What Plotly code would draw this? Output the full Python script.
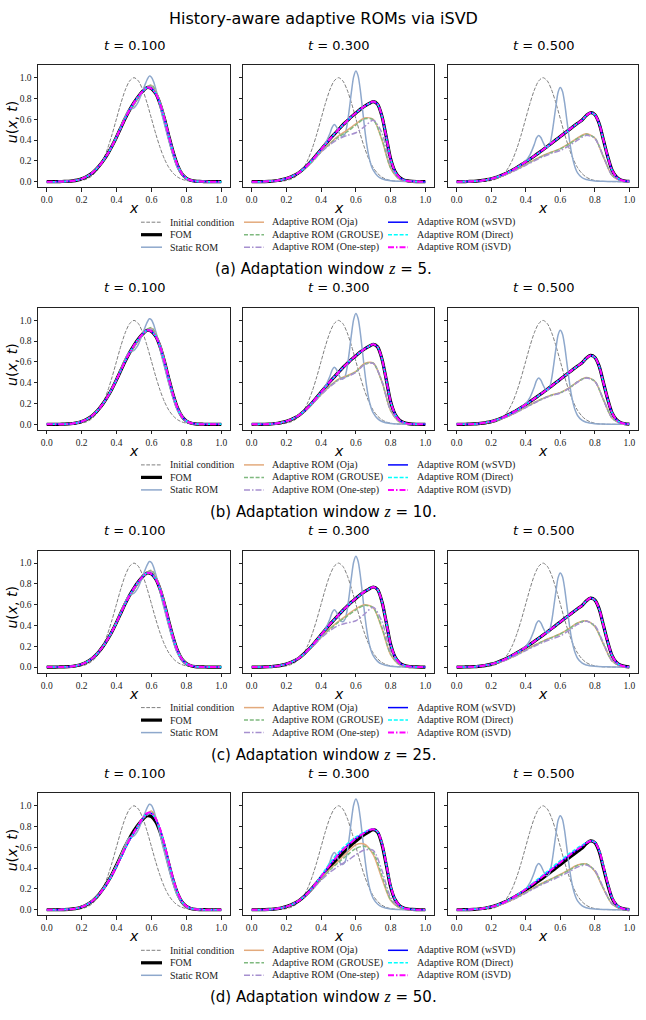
import plotly.graph_objects as go

# ---------------- data ----------------
X = [0.0, 0.025, 0.05, 0.075, 0.1, 0.125, 0.15, 0.175, 0.2, 0.225, 0.25, 0.275, 0.3, 0.325, 0.35, 0.375,
     0.4, 0.425, 0.45, 0.475, 0.5, 0.525, 0.55, 0.575, 0.6, 0.625, 0.65, 0.675, 0.7, 0.725, 0.75, 0.775,
     0.8, 0.825, 0.85, 0.875, 0.9, 0.925, 0.95, 0.975, 1.0]
XC = [0.0, 0.05, 0.1, 0.15, 0.2, 0.25, 0.3, 0.35, 0.4, 0.45, 0.5, 0.55, 0.6, 0.65, 0.7, 0.75, 0.8, 0.85, 0.9, 0.95, 1.0]
XS = [0.0, 0.05, 0.1, 0.15, 0.2, 0.25, 0.3, 0.35, 0.4, 0.425, 0.45, 0.4625, 0.475, 0.4875, 0.5, 0.5125, 0.525,
      0.5375, 0.55, 0.5625, 0.575, 0.5875, 0.6, 0.6125, 0.625, 0.6375, 0.65, 0.6625, 0.675, 0.6875, 0.7, 0.725,
      0.75, 0.8, 0.85, 0.9, 0.95, 1.0]

INIT = [0, 0, 0, 0, 0.0003, 0.0009, 0.002, 0.005, 0.011, 0.023, 0.044, 0.080, 0.135, 0.216, 0.325, 0.458,
        0.607, 0.755, 0.882, 0.969, 1.0, 0.969, 0.882, 0.755, 0.607, 0.458, 0.325, 0.216, 0.135, 0.080, 0.044,
        0.023, 0.011, 0.005, 0.002, 0.0009, 0.0003, 0, 0, 0, 0]

FOM_T1 = [0, 0, 0, 0.001, 0.002, 0.004, 0.008, 0.015, 0.027, 0.045, 0.07, 0.105, 0.15, 0.205, 0.27, 0.345,
          0.43, 0.52, 0.61, 0.69, 0.76, 0.82, 0.87, 0.905, 0.895, 0.845, 0.745, 0.60, 0.435, 0.28, 0.155, 0.075,
          0.033, 0.013, 0.005, 0.002, 0.001, 0, 0, 0, 0]
FOM_T3 = [0, 0, 0, 0.001, 0.003, 0.006, 0.011, 0.019, 0.03, 0.045, 0.065, 0.09, 0.125, 0.165, 0.21, 0.26,
          0.31, 0.36, 0.41, 0.455, 0.5, 0.545, 0.585, 0.625, 0.66, 0.695, 0.725, 0.75, 0.77, 0.745, 0.63, 0.43,
          0.22, 0.10, 0.042, 0.017, 0.007, 0.003, 0.001, 0, 0]
FOM_T5 = [0, 0, 0.001, 0.002, 0.004, 0.007, 0.012, 0.019, 0.028, 0.04, 0.055, 0.072, 0.092, 0.114, 0.138, 0.163,
          0.19, 0.218, 0.247, 0.277, 0.307, 0.338, 0.37, 0.402, 0.434, 0.466, 0.498, 0.53, 0.561, 0.59, 0.635, 0.663,
          0.645, 0.56, 0.40, 0.24, 0.11, 0.045, 0.017, 0.006, 0.002]

STATIC_T1 = [0, 0, 0.002, 0.008, 0.027, 0.07, 0.15, 0.27, 0.43, 0.525, 0.625, 0.67, 0.695, 0.70, 0.71, 0.735, 0.77,
             0.82, 0.875, 0.93, 0.98, 1.015, 1.005, 0.96, 0.89, 0.81, 0.72, 0.63, 0.55, 0.47, 0.39, 0.245, 0.13, 0.025,
             0.004, 0.001, 0, 0]
STATIC_T3 = [0, 0, 0.003, 0.011, 0.03, 0.065, 0.125, 0.21, 0.31, 0.37, 0.46, 0.52, 0.55, 0.53, 0.48, 0.445, 0.435,
             0.46, 0.55, 0.70, 0.87, 1.01, 1.065, 1.02, 0.89, 0.71, 0.52, 0.36, 0.24, 0.16, 0.11, 0.055, 0.028, 0.008,
             0.003, 0.001, 0, 0]
STATIC_T5 = [0, 0.001, 0.004, 0.012, 0.028, 0.055, 0.092, 0.138, 0.2, 0.26, 0.36, 0.42, 0.445, 0.425, 0.38, 0.34, 0.325,
             0.35, 0.44, 0.58, 0.73, 0.86, 0.905, 0.87, 0.76, 0.6, 0.44, 0.3, 0.2, 0.13, 0.085, 0.04, 0.02, 0.007,
             0.003, 0.001, 0, 0]

# adaptive ROMs, t = 0.1 (rows a-c)
OJA_T1 = [0, 0, 0.002, 0.008, 0.027, 0.07, 0.15, 0.27, 0.43, 0.62, 0.745, 0.87, 0.925, 0.76, 0.435, 0.155, 0.033, 0.005, 0.001, 0, 0]
GROUSE_T1 = [0, 0, 0.002, 0.008, 0.027, 0.07, 0.15, 0.27, 0.43, 0.62, 0.75, 0.875, 0.93, 0.76, 0.435, 0.155, 0.033, 0.005, 0.001, 0, 0]
ONESTEP_T1 = [0, 0, 0.002, 0.008, 0.027, 0.07, 0.15, 0.27, 0.43, 0.615, 0.75, 0.865, 0.915, 0.755, 0.435, 0.155, 0.033, 0.005, 0.001, 0, 0]

# row (a)
OJA_A3 = [0, 0, 0.003, 0.011, 0.03, 0.065, 0.122, 0.2, 0.29, 0.37, 0.44, 0.495, 0.555, 0.612, 0.6, 0.4, 0.13, 0.025, 0.004, 0.001, 0]
GROUSE_A3 = [0, 0, 0.003, 0.011, 0.03, 0.065, 0.12, 0.195, 0.285, 0.36, 0.43, 0.48, 0.545, 0.605, 0.595, 0.41, 0.135, 0.027, 0.004, 0.001, 0]
ONESTEP_A3 = [0, 0, 0.003, 0.011, 0.03, 0.065, 0.12, 0.195, 0.285, 0.355, 0.41, 0.445, 0.47, 0.53, 0.59, 0.47, 0.16, 0.028, 0.004, 0.001, 0]
OJA_A5 = [0, 0.001, 0.004, 0.012, 0.026, 0.048, 0.08, 0.12, 0.165, 0.21, 0.252, 0.285, 0.318, 0.365, 0.42, 0.46, 0.42, 0.235, 0.06, 0.01, 0.001]
GROUSE_A5 = [0, 0.001, 0.004, 0.012, 0.026, 0.048, 0.08, 0.12, 0.163, 0.207, 0.248, 0.282, 0.315, 0.36, 0.415, 0.455, 0.42, 0.24, 0.062, 0.01, 0.001]
ONESTEP_A5 = [0, 0.001, 0.004, 0.012, 0.026, 0.047, 0.078, 0.116, 0.158, 0.2, 0.24, 0.272, 0.3, 0.345, 0.4, 0.445, 0.415, 0.24, 0.062, 0.01, 0.001]

# row (b)
OJA_B3 = [0, 0, 0.003, 0.011, 0.03, 0.065, 0.122, 0.2, 0.29, 0.37, 0.435, 0.468, 0.51, 0.585, 0.59, 0.41, 0.135, 0.025, 0.004, 0.001, 0]
GROUSE_B3 = [0, 0, 0.003, 0.011, 0.03, 0.065, 0.12, 0.198, 0.288, 0.367, 0.43, 0.463, 0.505, 0.58, 0.588, 0.41, 0.135, 0.026, 0.004, 0.001, 0]
ONESTEP_B3 = [0, 0, 0.003, 0.011, 0.03, 0.065, 0.12, 0.196, 0.285, 0.362, 0.425, 0.458, 0.5, 0.575, 0.587, 0.415, 0.14, 0.027, 0.004, 0.001, 0]
OJA_B5 = [0, 0.001, 0.004, 0.012, 0.026, 0.048, 0.08, 0.12, 0.165, 0.21, 0.25, 0.283, 0.305, 0.35, 0.41, 0.45, 0.415, 0.235, 0.06, 0.01, 0.001]
GROUSE_B5 = [0, 0.001, 0.004, 0.012, 0.026, 0.048, 0.08, 0.12, 0.164, 0.208, 0.248, 0.281, 0.303, 0.348, 0.408, 0.448, 0.415, 0.237, 0.061, 0.01, 0.001]
ONESTEP_B5 = [0, 0.001, 0.004, 0.012, 0.026, 0.047, 0.079, 0.118, 0.162, 0.205, 0.245, 0.278, 0.3, 0.345, 0.405, 0.446, 0.414, 0.238, 0.062, 0.01, 0.001]

# row (c)
OJA_C3 = [0, 0, 0.003, 0.011, 0.03, 0.065, 0.122, 0.2, 0.29, 0.37, 0.44, 0.5, 0.56, 0.6, 0.57, 0.37, 0.12, 0.024, 0.004, 0.001, 0]
GROUSE_C3 = [0, 0, 0.003, 0.011, 0.03, 0.065, 0.12, 0.197, 0.286, 0.365, 0.433, 0.49, 0.55, 0.593, 0.57, 0.38, 0.125, 0.025, 0.004, 0.001, 0]
ONESTEP_C3 = [0, 0, 0.003, 0.011, 0.03, 0.065, 0.12, 0.195, 0.28, 0.35, 0.4, 0.425, 0.445, 0.51, 0.575, 0.44, 0.15, 0.028, 0.004, 0.001, 0]
OJA_C5 = [0, 0.001, 0.004, 0.012, 0.026, 0.048, 0.08, 0.12, 0.165, 0.21, 0.25, 0.285, 0.32, 0.37, 0.425, 0.445, 0.39, 0.22, 0.058, 0.01, 0.001]
GROUSE_C5 = [0, 0.001, 0.004, 0.012, 0.026, 0.048, 0.08, 0.12, 0.164, 0.208, 0.248, 0.283, 0.318, 0.367, 0.422, 0.443, 0.392, 0.222, 0.059, 0.01, 0.001]
ONESTEP_C5 = [0, 0.001, 0.004, 0.012, 0.026, 0.047, 0.078, 0.116, 0.158, 0.2, 0.238, 0.27, 0.3, 0.35, 0.41, 0.44, 0.4, 0.23, 0.06, 0.01, 0.001]

# row (d)
OJA_D1 = [0, 0, 0.002, 0.008, 0.027, 0.07, 0.15, 0.27, 0.425, 0.61, 0.74, 0.875, 0.95, 0.77, 0.44, 0.15, 0.03, 0.005, 0.001, 0, 0]
GROUSE_D1 = [0, 0, 0.002, 0.008, 0.027, 0.07, 0.15, 0.27, 0.425, 0.61, 0.745, 0.88, 0.94, 0.77, 0.44, 0.15, 0.03, 0.005, 0.001, 0, 0]
ONESTEP_D1 = [0, 0, 0.002, 0.008, 0.027, 0.07, 0.15, 0.27, 0.425, 0.605, 0.74, 0.87, 0.93, 0.765, 0.44, 0.15, 0.03, 0.005, 0.001, 0, 0]
OJA_D3 = [0, 0, 0.003, 0.011, 0.03, 0.065, 0.125, 0.205, 0.3, 0.39, 0.47, 0.55, 0.625, 0.63, 0.53, 0.3, 0.09, 0.02, 0.003, 0.001, 0]
GROUSE_D3 = [0, 0, 0.003, 0.011, 0.03, 0.065, 0.123, 0.2, 0.293, 0.38, 0.455, 0.525, 0.59, 0.61, 0.55, 0.33, 0.1, 0.022, 0.004, 0.001, 0]
ONESTEP_D3 = [0, 0, 0.003, 0.011, 0.03, 0.065, 0.12, 0.195, 0.285, 0.36, 0.42, 0.47, 0.53, 0.575, 0.57, 0.38, 0.12, 0.025, 0.004, 0.001, 0]
OJA_D5 = [0, 0.001, 0.004, 0.012, 0.026, 0.048, 0.08, 0.12, 0.168, 0.215, 0.26, 0.3, 0.34, 0.385, 0.43, 0.44, 0.37, 0.2, 0.055, 0.01, 0.001]
GROUSE_D5 = [0, 0.001, 0.004, 0.012, 0.026, 0.048, 0.08, 0.12, 0.166, 0.212, 0.256, 0.296, 0.335, 0.38, 0.425, 0.44, 0.375, 0.205, 0.056, 0.01, 0.001]
ONESTEP_D5 = [0, 0.001, 0.004, 0.012, 0.026, 0.047, 0.078, 0.116, 0.16, 0.205, 0.247, 0.285, 0.322, 0.365, 0.41, 0.43, 0.38, 0.21, 0.058, 0.01, 0.001]

WSVD_D1 = [0, 0, 0, 0.001, 0.002, 0.004, 0.008, 0.015, 0.027, 0.045, 0.07, 0.104, 0.148, 0.2, 0.262, 0.335,
           0.415, 0.5, 0.59, 0.67, 0.74, 0.81, 0.875, 0.925, 0.925, 0.87, 0.77, 0.62, 0.45, 0.29, 0.16, 0.078,
           0.034, 0.014, 0.005, 0.002, 0.001, 0, 0, 0, 0]
DIRECT_D1 = WSVD_D1
ISVD_D1 = [0, 0, 0, 0.001, 0.002, 0.004, 0.008, 0.015, 0.027, 0.045, 0.07, 0.104, 0.148, 0.2, 0.262, 0.335,
           0.415, 0.505, 0.595, 0.675, 0.745, 0.815, 0.88, 0.93, 0.93, 0.875, 0.775, 0.625, 0.455, 0.295, 0.165, 0.08,
           0.035, 0.014, 0.005, 0.002, 0.001, 0, 0, 0, 0]
WSVD_D3 = [0, 0, 0, 0.001, 0.003, 0.006, 0.011, 0.019, 0.03, 0.045, 0.065, 0.09, 0.125, 0.165, 0.212, 0.265,
           0.32, 0.375, 0.43, 0.48, 0.53, 0.575, 0.615, 0.65, 0.685, 0.715, 0.74, 0.765, 0.775, 0.75, 0.64, 0.44,
           0.228, 0.103, 0.043, 0.017, 0.007, 0.003, 0.001, 0, 0]
DIRECT_D3 = [0, 0, 0, 0.001, 0.003, 0.006, 0.011, 0.019, 0.03, 0.045, 0.065, 0.09, 0.126, 0.167, 0.215, 0.27,
             0.33, 0.39, 0.45, 0.505, 0.55, 0.595, 0.635, 0.67, 0.70, 0.725, 0.748, 0.768, 0.775, 0.75, 0.64, 0.44,
             0.23, 0.104, 0.043, 0.017, 0.007, 0.003, 0.001, 0, 0]
ISVD_D3 = WSVD_D3
WSVD_D5 = [0, 0, 0.001, 0.002, 0.004, 0.007, 0.012, 0.019, 0.028, 0.04, 0.055, 0.072, 0.093, 0.116, 0.141, 0.168,
           0.197, 0.227, 0.258, 0.29, 0.322, 0.355, 0.388, 0.421, 0.455, 0.488, 0.52, 0.552, 0.582, 0.61, 0.64, 0.662,
           0.65, 0.57, 0.415, 0.25, 0.115, 0.047, 0.018, 0.006, 0.002]
DIRECT_D5 = [0, 0, 0.001, 0.002, 0.004, 0.007, 0.012, 0.019, 0.028, 0.04, 0.055, 0.073, 0.094, 0.118, 0.144, 0.172,
             0.202, 0.234, 0.268, 0.302, 0.336, 0.37, 0.405, 0.44, 0.472, 0.505, 0.537, 0.567, 0.595, 0.62, 0.647, 0.664,
             0.65, 0.57, 0.415, 0.25, 0.115, 0.047, 0.018, 0.006, 0.002]
ISVD_D5 = WSVD_D5

TIMES = ["0.100", "0.300", "0.500"]
ROW_TAGS = ["a", "b", "c", "d"]
WINDOWS = ["5", "10", "25", "50"]
X_TICKS = [0.0, 0.2, 0.4, 0.6, 0.8, 1.0]
X_TICKTEXT = ["0.0", "0.2", "0.4", "0.6", "0.8", "1.0"]
Y_TICKS = [0.0, 0.2, 0.4, 0.6, 0.8, 1.0]
Y_TICKTEXT = ["0.0", "0.2", "0.4", "0.6", "0.8", "1.0"]
LABELS = ["Initial condition", "FOM", "Static ROM", "Adaptive ROM (Oja)", "Adaptive ROM (GROUSE)",
          "Adaptive ROM (One-step)", "Adaptive ROM (wSVD)", "Adaptive ROM (Direct)", "Adaptive ROM (iSVD)"]

FOM = [FOM_T1, FOM_T3, FOM_T5]
STATIC = [STATIC_T1, STATIC_T3, STATIC_T5]
BAD = {
    "a": [(OJA_T1, GROUSE_T1, ONESTEP_T1), (OJA_A3, GROUSE_A3, ONESTEP_A3), (OJA_A5, GROUSE_A5, ONESTEP_A5)],
    "b": [(OJA_T1, GROUSE_T1, ONESTEP_T1), (OJA_B3, GROUSE_B3, ONESTEP_B3), (OJA_B5, GROUSE_B5, ONESTEP_B5)],
    "c": [(OJA_T1, GROUSE_T1, ONESTEP_T1), (OJA_C3, GROUSE_C3, ONESTEP_C3), (OJA_C5, GROUSE_C5, ONESTEP_C5)],
    "d": [(OJA_D1, GROUSE_D1, ONESTEP_D1), (OJA_D3, GROUSE_D3, ONESTEP_D3), (OJA_D5, GROUSE_D5, ONESTEP_D5)],
}
GOOD = {
    "a": [(FOM_T1, FOM_T1, FOM_T1), (FOM_T3, FOM_T3, FOM_T3), (FOM_T5, FOM_T5, FOM_T5)],
    "b": [(FOM_T1, FOM_T1, FOM_T1), (FOM_T3, FOM_T3, FOM_T3), (FOM_T5, FOM_T5, FOM_T5)],
    "c": [(FOM_T1, FOM_T1, FOM_T1), (FOM_T3, FOM_T3, FOM_T3), (FOM_T5, FOM_T5, FOM_T5)],
    "d": [(WSVD_D1, DIRECT_D1, ISVD_D1), (WSVD_D3, DIRECT_D3, ISVD_D3), (WSVD_D5, DIRECT_D5, ISVD_D5)],
}

# ---------------- styles ----------------
DASH = "4px,1.8px"
DASHDOT = "6px,2px,1.5px,2px"
STY = [
    dict(color="#7f7f7f", width=1.0, dash="3.7px,1.6px"),   # initial
    dict(color="#000000", width=3.2, dash="solid"),          # FOM
    dict(color="#8EA8CC", width=1.5, dash="solid"),          # static
    dict(color="#E3AA7C", width=1.5, dash="solid"),          # Oja
    dict(color="#7FB97F", width=1.5, dash=DASH),             # GROUSE
    dict(color="#A690CF", width=1.5, dash=DASHDOT),          # One-step
    dict(color="#0000FF", width=1.5, dash="solid"),          # wSVD
    dict(color="#00FFFF", width=1.5, dash=DASH),             # Direct
    dict(color="#FF00FF", width=2.0, dash=DASHDOT),          # iSVD
]

W, H = 646, 1020
COL_PX = [(38, 230), (243, 434), (448, 638)]
ROW_TOP = [65.2, 307.9, 550.6, 793.3]
PANEL_H = 122
YR = [-0.0533, 1.12]
XR = [-0.05, 1.05]

SERIF = "Liberation Serif"
SANS = "DejaVu Sans"

fig = go.Figure()


def px2py(p):
    return 1 - p / H


for r in range(4):
    tag = ROW_TAGS[r]
    for c in range(3):
        k = r * 3 + c + 1
        xa = "x" if k == 1 else f"x{k}"
        ya = "y" if k == 1 else f"y{k}"
        series = [
            (X, INIT), (X, FOM[c]), (XS, STATIC[c]),
            (XC, BAD[tag][c][0]), (XC, BAD[tag][c][1]), (XC, BAD[tag][c][2]),
            (X, GOOD[tag][c][0]), (X, GOOD[tag][c][1]), (X, GOOD[tag][c][2]),
        ]
        for i, (xx, yy) in enumerate(series):
            fig.add_trace(go.Scatter(
                x=xx, y=yy, mode="lines", xaxis=xa, yaxis=ya, showlegend=False,
                line=dict(color=STY[i]["color"], width=STY[i]["width"], dash=STY[i]["dash"],
                          shape="spline", smoothing=0.8),
                hoverinfo="skip"))
        x0, x1 = COL_PX[c]
        top = ROW_TOP[r]
        bot = top + PANEL_H
        axis_common = dict(showgrid=False, zeroline=False, showline=True, linecolor="#222",
                           linewidth=1, mirror=True, ticks="outside", ticklen=3.5, tickwidth=0.8,
                           tickcolor="#222", tickfont=dict(family=SERIF, size=9.5, color="#222"))
        fig.layout[("xaxis" if k == 1 else f"xaxis{k}")] = dict(
            domain=[x0 / W, x1 / W], anchor=ya, range=XR, tickvals=X_TICKS, ticktext=X_TICKTEXT,
            **axis_common)
        fig.layout[("yaxis" if k == 1 else f"yaxis{k}")] = dict(
            domain=[px2py(bot), px2py(top)], anchor=xa, range=YR, tickvals=Y_TICKS, ticktext=Y_TICKTEXT,
            showticklabels=(c == 0), **axis_common)
        # subplot title
        fig.add_annotation(x=(x0 + x1) / 2 / W, y=px2py(top - 20), xref="paper", yref="paper",
                           text=f"<i>t</i> = {TIMES[c]}", showarrow=False,
                           font=dict(family=SANS, size=13, color="black"), xanchor="center", yanchor="middle")
        # x label
        fig.add_annotation(x=(x0 + x1) / 2 / W, y=px2py(bot + 21), xref="paper", yref="paper",
                           text="<i>x</i>", showarrow=False,
                           font=dict(family=SANS, size=14, color="black"), xanchor="center", yanchor="middle")
    # y label
    top = ROW_TOP[r]
    fig.add_annotation(x=12 / W, y=px2py(top + PANEL_H / 2 - 4), xref="paper", yref="paper",
                       text="<i>u</i>(<i>x</i>, <i>t</i>)", showarrow=False, textangle=-90,
                       font=dict(family=SANS, size=14, color="black"), xanchor="center", yanchor="middle")
    # legend
    bot = ROW_TOP[r] + PANEL_H
    cols = [(141, 162, 168), (244, 264, 270), (388, 408, 415)]
    for i, lab in enumerate(LABELS):
        cc = i // 3
        rr = i % 3
        ly = bot + 35 + rr * 12.5
        lx0, lx1, tx = cols[cc]
        st = STY[i]
        fig.add_shape(type="line", xref="paper", yref="paper", x0=lx0 / W, x1=lx1 / W,
                      y0=px2py(ly), y1=px2py(ly),
                      line=dict(color=st["color"], width=st["width"], dash=st["dash"]))
        fig.add_annotation(x=tx / W, y=px2py(ly), xref="paper", yref="paper", text=lab, showarrow=False,
                           font=dict(family=SERIF, size=10, color="#222"), xanchor="left", yanchor="middle")
    # caption
    fig.add_annotation(x=323 / W, y=px2py(bot + 82), xref="paper", yref="paper",
                       text=(f"({tag}) Adaptation window "
                             f"<span style='font-family:Liberation Serif;font-size:16px'><i>z</i></span>"
                             f" = {WINDOWS[r]}."),
                       showarrow=False, font=dict(family=SANS, size=15, color="black"),
                       xanchor="center", yanchor="middle")

fig.add_annotation(x=0.5, y=px2py(18), xref="paper", yref="paper", text="History-aware adaptive ROMs via iSVD",
                   showarrow=False, font=dict(family=SANS, size=16, color="black"),
                   xanchor="center", yanchor="middle")

fig.update_layout(width=W, height=H, margin=dict(l=0, r=0, t=0, b=0), paper_bgcolor="white",
                  plot_bgcolor="white", showlegend=False)

fig.write_html("out.html")
